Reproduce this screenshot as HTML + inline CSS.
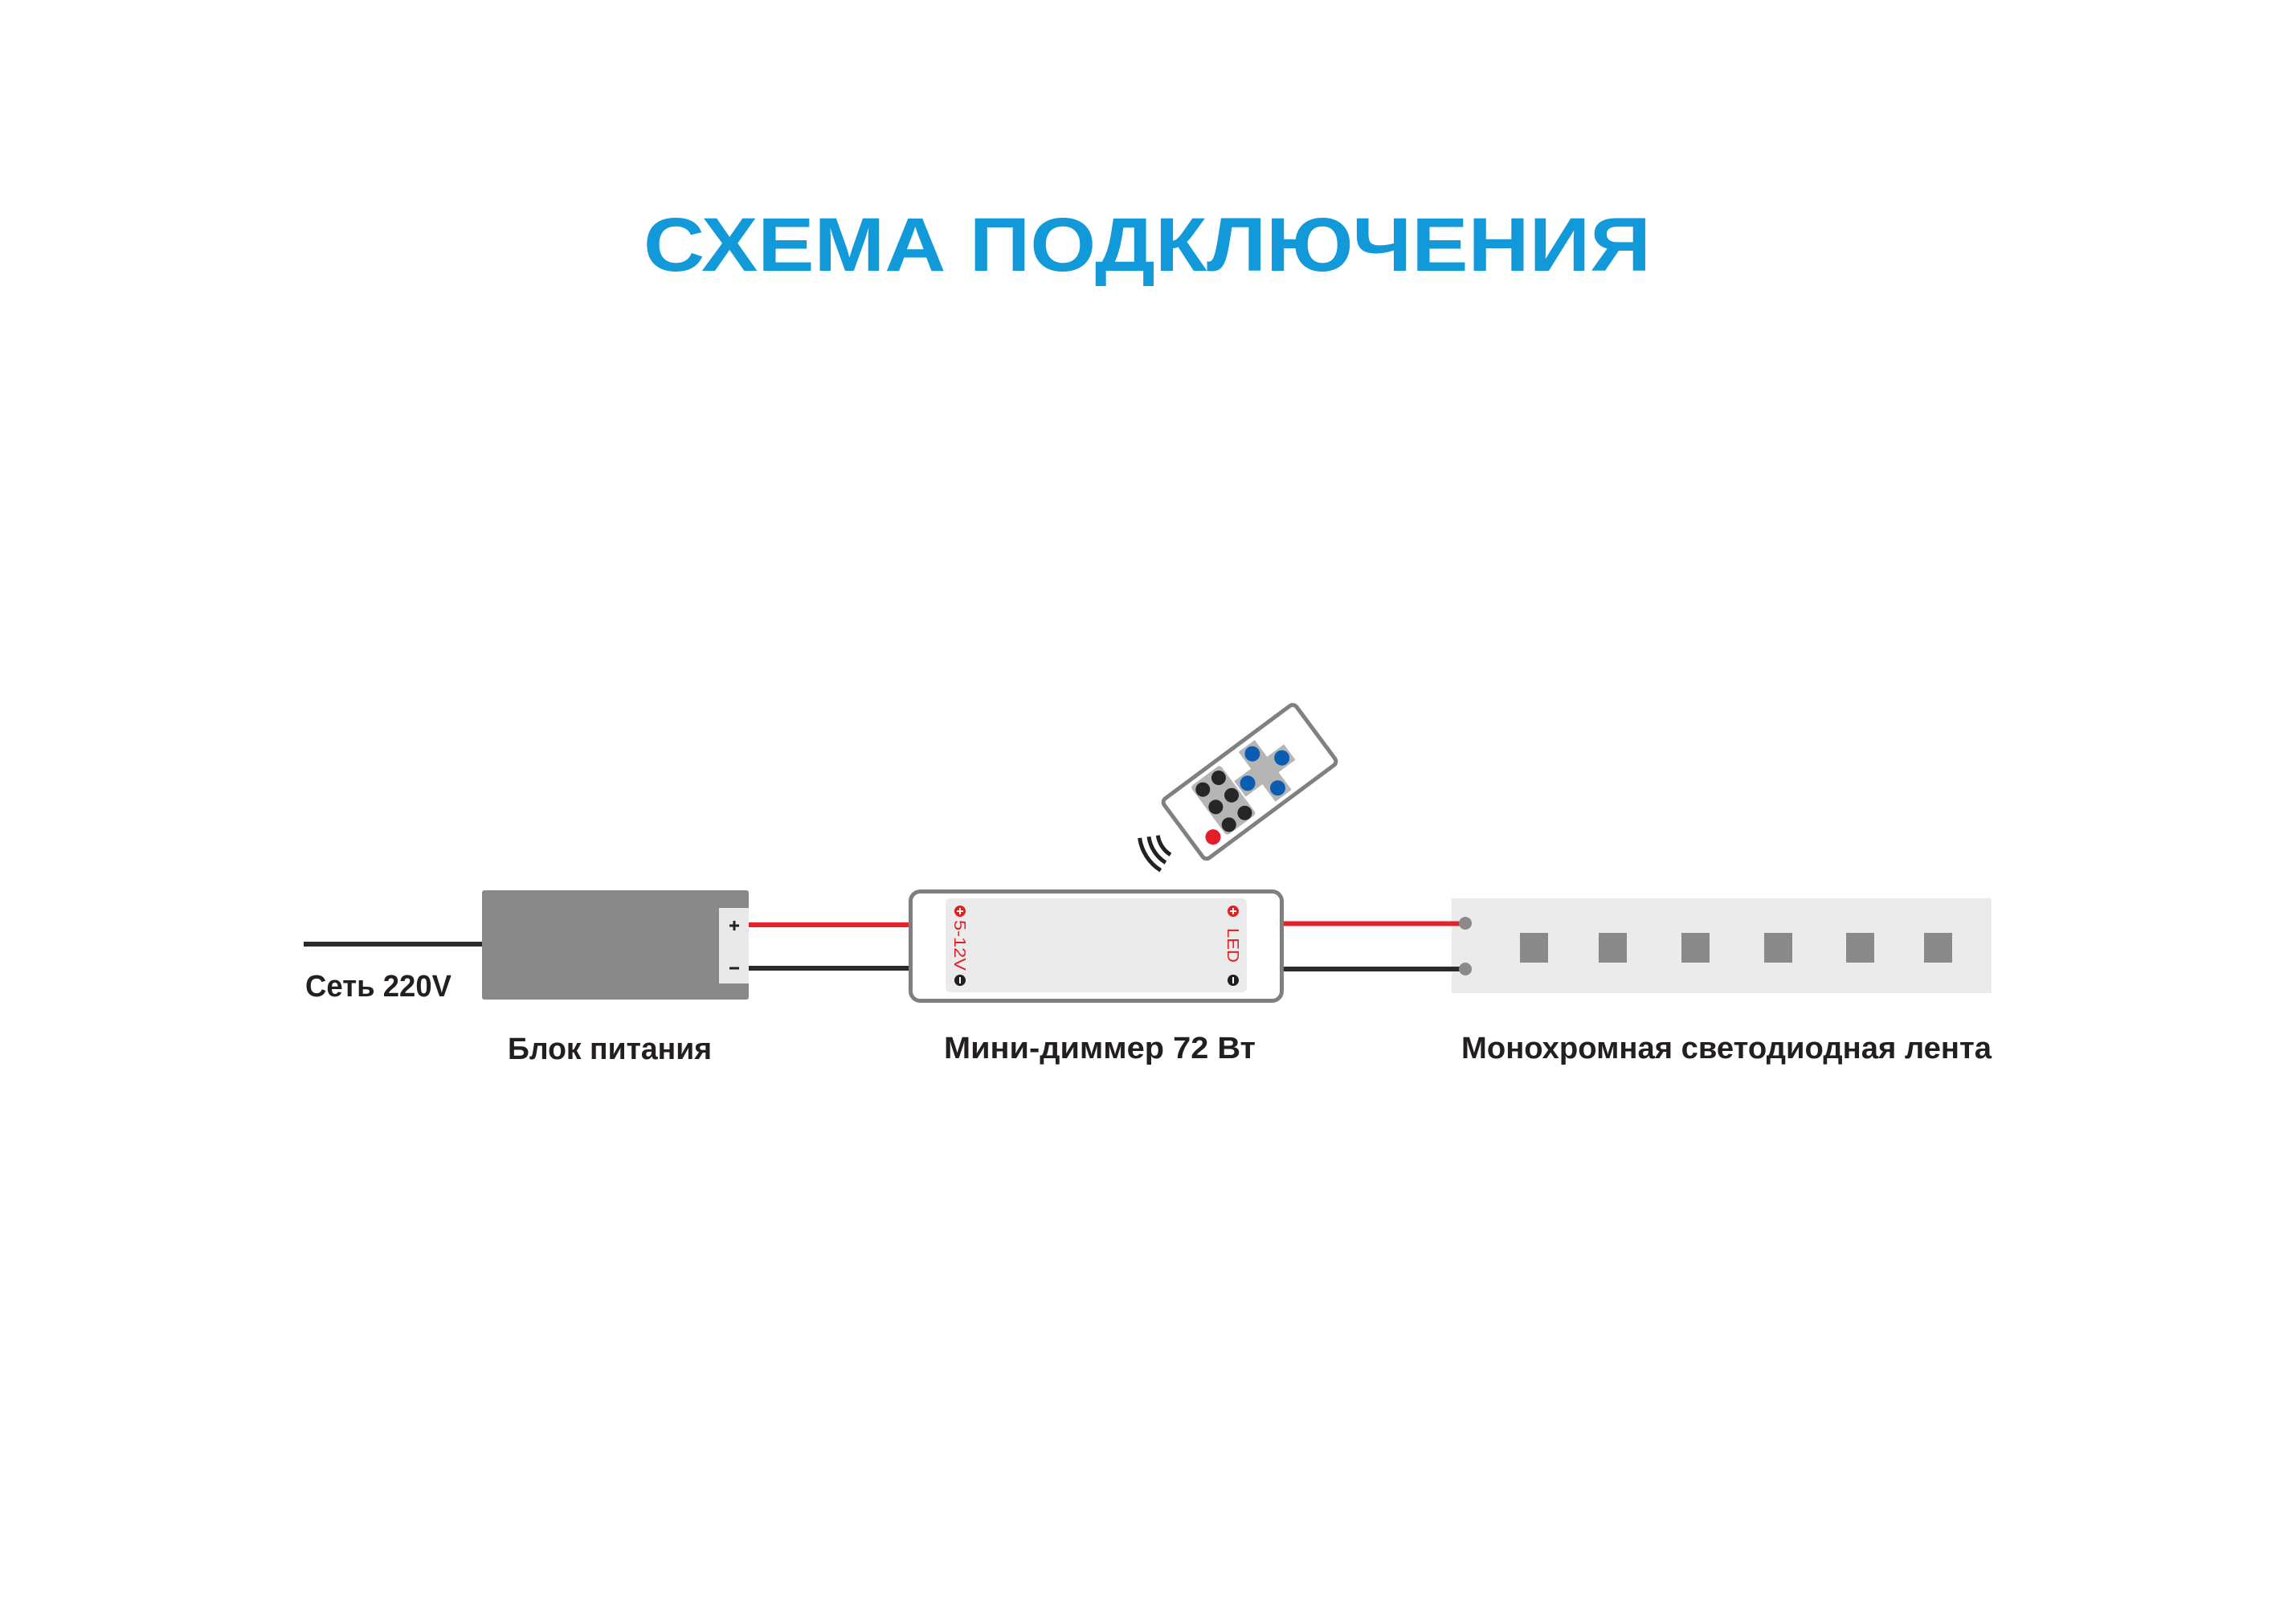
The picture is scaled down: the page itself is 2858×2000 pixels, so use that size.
<!DOCTYPE html>
<html>
<head>
<meta charset="utf-8">
<style>
  html,body{margin:0;padding:0;background:#ffffff;}
  svg{display:block;}
  .lbl{font-family:"Liberation Sans","Noto Sans CJK SC",sans-serif;font-weight:bold;fill:#231f20;}
</style>
</head>
<body>
<svg width="2858" height="2000" viewBox="0 0 2858 2000" xmlns="http://www.w3.org/2000/svg">
  <rect x="0" y="0" width="2858" height="2000" fill="#ffffff"/>

  <!-- Title -->
  <text x="801" y="337" font-family="Liberation Sans, sans-serif" font-weight="bold" font-size="95" fill="#1199d9" textLength="1254" lengthAdjust="spacingAndGlyphs">СХЕМА ПОДКЛЮЧЕНИЯ</text>

  <!-- Mains wire -->
  <rect x="378" y="1172" width="222" height="6" fill="#2a2a2a"/>

  <!-- Power supply -->
  <rect x="600" y="1108" width="332" height="136" rx="3" fill="#898989"/>
  <rect x="895" y="1130" width="37" height="94" fill="#e9e9e9"/>
  <line x1="908" y1="1152" x2="920" y2="1152" stroke="#222" stroke-width="3"/>
  <line x1="914" y1="1146" x2="914" y2="1158" stroke="#222" stroke-width="3"/>
  <line x1="908" y1="1205" x2="920" y2="1205" stroke="#222" stroke-width="3"/>

  <!-- Wires PSU -> dimmer -->
  <rect x="932" y="1148" width="201" height="6" fill="#e3222a"/>
  <rect x="932" y="1202" width="201" height="6" fill="#2a2a2a"/>

  <!-- LED strip -->
  <rect x="1807" y="1118" width="672" height="118" fill="#ebebeb"/>

  <!-- Wires dimmer -> strip -->
  <rect x="1598" y="1146.5" width="226" height="6" fill="#e3222a"/>
  <rect x="1598" y="1203" width="226" height="6" fill="#2a2a2a"/>

  <circle cx="1824" cy="1149" r="8" fill="#8a8a8a"/>
  <circle cx="1824" cy="1206" r="8" fill="#8a8a8a"/>
  <g fill="#8a8a8a">
    <rect x="1892" y="1161" width="35" height="37"/>
    <rect x="1990" y="1161" width="35" height="37"/>
    <rect x="2093" y="1161" width="35" height="37"/>
    <rect x="2196" y="1161" width="35" height="37"/>
    <rect x="2298" y="1161" width="35" height="37"/>
    <rect x="2395" y="1161" width="35" height="37"/>
  </g>

  <!-- Dimmer -->
  <rect x="1133.5" y="1109.5" width="462" height="136" rx="12" fill="#ffffff" stroke="#7f7f7f" stroke-width="5"/>
  <rect x="1177" y="1118" width="375" height="117" rx="6" fill="#ebebeb"/>
  <!-- left terminals -->
  <circle cx="1195" cy="1134" r="7" fill="#e31e24"/>
  <line x1="1191" y1="1134" x2="1199" y2="1134" stroke="#fff" stroke-width="2"/>
  <line x1="1195" y1="1130" x2="1195" y2="1138" stroke="#fff" stroke-width="2"/>
  <text transform="translate(1188,1145) rotate(90)" font-family="Liberation Sans, sans-serif" font-size="20" fill="#e31e24" textLength="63" lengthAdjust="spacingAndGlyphs">5-12V</text>
  <circle cx="1195" cy="1220" r="7" fill="#231f20"/>
  <line x1="1195" y1="1216" x2="1195" y2="1224" stroke="#fff" stroke-width="2"/>
  <!-- right terminals -->
  <circle cx="1535" cy="1134" r="7" fill="#e31e24"/>
  <line x1="1531" y1="1134" x2="1539" y2="1134" stroke="#fff" stroke-width="2"/>
  <line x1="1535" y1="1130" x2="1535" y2="1138" stroke="#fff" stroke-width="2"/>
  <text transform="translate(1528,1155) rotate(90)" font-family="Liberation Sans, sans-serif" font-size="20" fill="#e31e24" textLength="43" lengthAdjust="spacingAndGlyphs">LED</text>
  <circle cx="1535" cy="1220" r="7" fill="#231f20"/>
  <line x1="1535" y1="1216" x2="1535" y2="1224" stroke="#fff" stroke-width="2"/>

  <!-- Signal waves -->
  <g fill="none" stroke="#222" stroke-width="5">
    <path d="M 1441.3 1039.7 A 34 34 0 0 0 1457 1063.8"/>
    <path d="M 1430 1041.3 A 45.5 45.5 0 0 0 1450.9 1073.6"/>
    <path d="M 1418.6 1042.9 A 57 57 0 0 0 1444.8 1083.3"/>
  </g>

  <!-- Remote -->
  <g transform="translate(1555.5,973) rotate(-36.6)">
    <rect x="-102.5" y="-46" width="205" height="92" rx="6" fill="#ffffff" stroke="#808080" stroke-width="5"/>
    <rect x="-63" y="-39" width="46" height="76" rx="4" fill="#b5b5b5"/>
    <circle cx="-52.5" cy="-27" r="9" fill="#262626"/>
    <circle cx="-28" cy="-27" r="9" fill="#262626"/>
    <circle cx="-52.5" cy="0" r="9" fill="#262626"/>
    <circle cx="-28" cy="0" r="9" fill="#262626"/>
    <circle cx="-52.5" cy="27.5" r="9" fill="#262626"/>
    <circle cx="-28" cy="27.5" r="9" fill="#262626"/>
    <circle cx="-77.5" cy="28" r="9.5" fill="#e41e26"/>
    <rect x="-15" y="-12" width="77" height="24" fill="#b5b5b5"/>
    <rect x="11" y="-38" width="25" height="77" fill="#b5b5b5"/>
    <circle cx="23.5" cy="-26" r="9.5" fill="#0b5db4"/>
    <circle cx="50" cy="0" r="9.5" fill="#0b5db4"/>
    <circle cx="-3" cy="0" r="9.5" fill="#0b5db4"/>
    <circle cx="23.5" cy="27" r="9.5" fill="#0b5db4"/>
  </g>

  <!-- Labels -->
  <text class="lbl" x="380" y="1240" font-size="38" textLength="182" lengthAdjust="spacingAndGlyphs">Сеть 220V</text>
  <text class="lbl" x="632" y="1318" font-size="38" textLength="254" lengthAdjust="spacingAndGlyphs">Блок питания</text>
  <text class="lbl" x="1175" y="1317" font-size="38" textLength="388" lengthAdjust="spacingAndGlyphs">Мини-диммер 72 Вт</text>
  <text class="lbl" x="1819" y="1317" font-size="38" textLength="660" lengthAdjust="spacingAndGlyphs">Монохромная светодиодная лента</text>
</svg>
</body>
</html>
